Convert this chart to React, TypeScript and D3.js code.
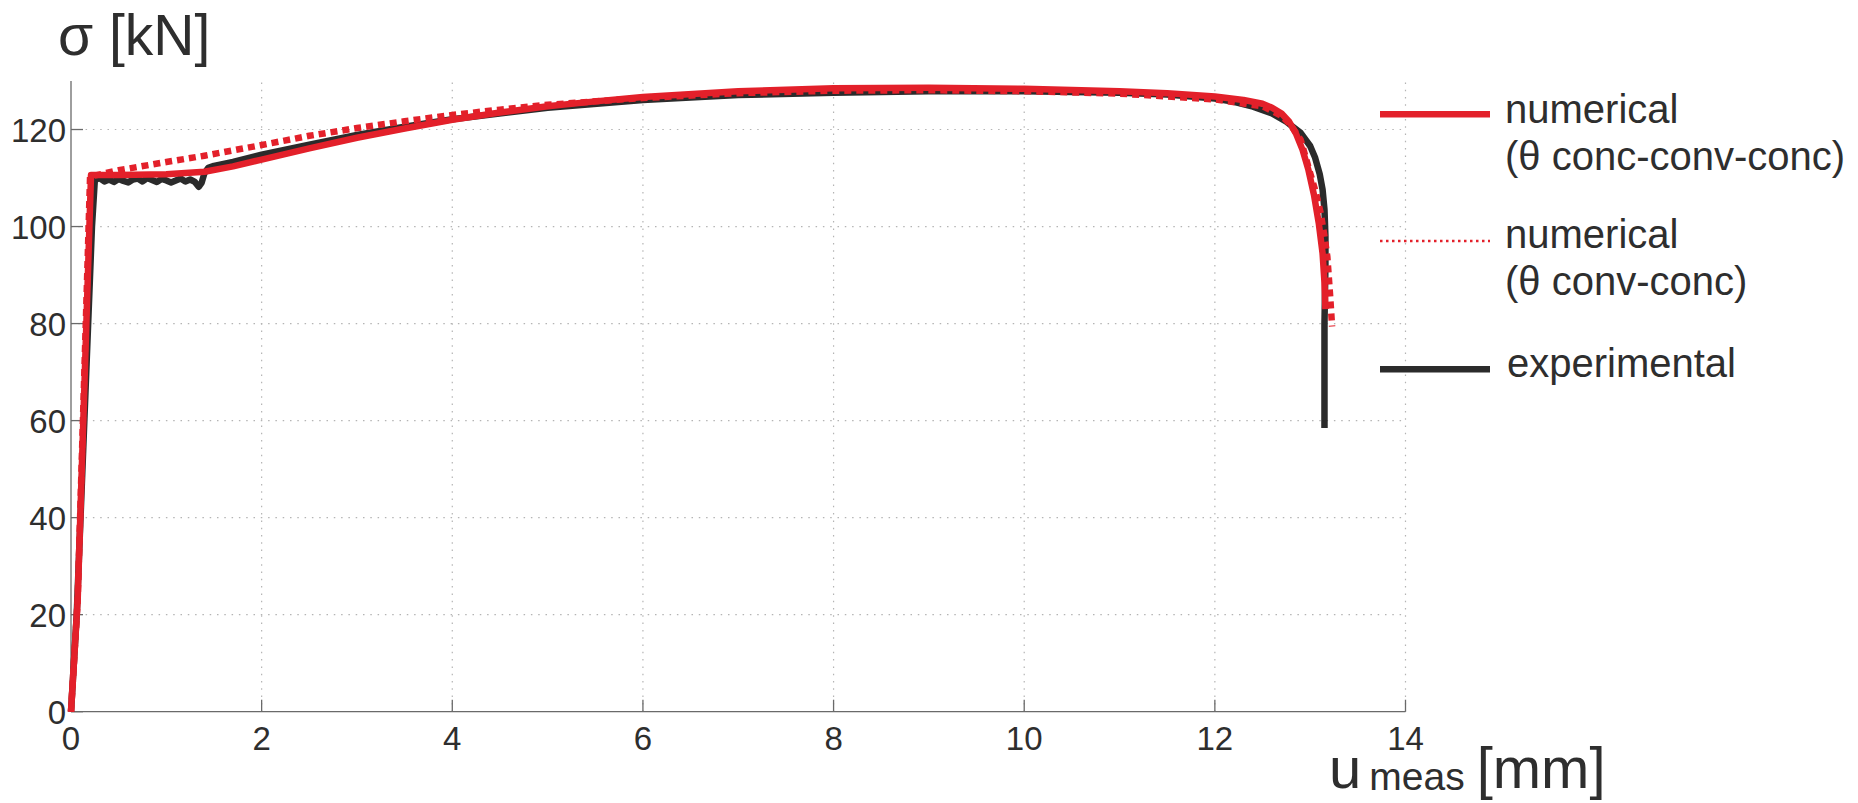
import React from "react";
import * as d3 from "d3";

// ---- data (u_meas [mm], sigma [kN]) ----
const xTicks = [0, 2, 4, 6, 8, 10, 12, 14];
const yTicks = [0, 20, 40, 60, 80, 100, 120];

const numConcConvConcU = [0, 0.07, 0.21, 0.5, 1.0, 1.4, 1.7, 2.0, 2.5, 3.0, 3.5, 4.0, 4.5, 5.0, 5.5, 6.0, 7.0, 8.0, 9.0, 10.0, 11.0, 11.5, 12.0, 12.3, 12.5, 12.6, 12.7, 12.78, 12.85, 12.92, 12.98, 13.04, 13.09, 13.13, 13.15, 13.16];
const numConcConvConcS = [0, 23, 110.6, 110.6, 110.8, 111.3, 112.4, 113.8, 116.1, 118.3, 120.2, 122.0, 123.5, 124.8, 125.8, 126.7, 127.9, 128.5, 128.6, 128.4, 127.9, 127.5, 126.8, 126.1, 125.3, 124.5, 123.3, 121.6, 119.2, 115.8, 111.8, 106.5, 100.7, 94.5, 88.5, 83];

const numConvConcU = [0, 0.07, 0.2, 0.5, 1.0, 1.4, 2.0, 2.5, 3.0, 3.5, 4.0, 4.5, 5.0, 6.0, 7.0, 8.0, 9.0, 10.0, 11.0, 12.0, 12.5, 12.7, 12.8, 12.9, 13.0, 13.06, 13.11, 13.15, 13.18, 13.21, 13.23];
const numConvConcS = [0, 23, 110.3, 111.6, 113.3, 114.6, 116.8, 118.7, 120.3, 121.7, 123.0, 124.1, 125.1, 126.5, 127.5, 128.0, 128.1, 127.9, 127.4, 126.2, 124.8, 122.8, 120.8, 117.9, 111.0, 107.0, 102.8, 98.0, 93.8, 85.6, 79.4];

const expU = [0, 0.06, 0.22, 0.25, 0.3, 0.35, 0.4, 0.45, 0.5, 0.55, 0.6, 0.65, 0.7, 0.75, 0.8, 0.85, 0.9, 0.95, 1.0, 1.05, 1.1, 1.15, 1.2, 1.25, 1.3, 1.34, 1.37, 1.4, 1.44, 1.5, 1.7, 2.0, 2.5, 3.0, 3.5, 4.0, 5.0, 6.0, 7.0, 8.0, 9.0, 10.0, 11.0, 11.5, 12.0, 12.2, 12.4, 12.6, 12.75, 12.9, 13.0, 13.05, 13.1, 13.13, 13.15, 13.16, 13.16, 13.15, 13.15];
const expS = [0, 20, 100, 109.6, 110.0, 109.3, 109.7, 109.2, 109.8, 109.4, 109.1, 109.7, 109.9, 109.3, 110.0, 109.6, 109.2, 109.8, 109.5, 109.1, 109.5, 109.9, 109.3, 109.7, 109.2, 108.2, 109.0, 111.0, 112.1, 112.5, 113.3, 114.8, 116.9, 118.9, 120.6, 122.1, 124.5, 126.1, 127.1, 127.6, 127.9, 127.9, 127.6, 127.2, 126.4, 125.7, 124.7, 123.3, 121.6, 119.3, 116.6, 114.3, 110.8, 107.6, 103.5, 98.0, 92.0, 80.0, 58.5];

const legendLabels = [
  ["numerical", "(θ conc-conv-conc)"],
  ["numerical", "(θ conv-conc)"],
  ["experimental"],
];

const RED = "#e3202a";
const BLACK = "#2b2b2b";
const TEXT = "#2e2e2e";
const FONT = "'Liberation Sans', Arial, Helvetica, sans-serif";

function zip(u: number[], s: number[]): [number, number][] {
  return u.map((v, i) => [v, s[i]]);
}

export default function App() {
  const W = 1858;
  const H = 803;
  const x = d3.scaleLinear().domain([0, 14]).range([71, 1405.5]);
  const y = d3.scaleLinear().domain([0, 130]).range([711.7, 81]);
  const line = d3
    .line<[number, number]>()
    .x((d) => x(d[0]))
    .y((d) => y(d[1]));

  const grid = "#b4b4b4";
  const axisCol = "#6a6a6a";

  return (
    <svg
      width={W}
      height={H}
      style={{ position: "absolute", left: 0, top: 0, display: "block", background: "#fff" }}
      fontFamily={FONT}
    >
      {/* grid */}
      {xTicks.filter((t) => t > 0).map((t) => (
        <line key={"gx" + t} x1={x(t)} x2={x(t)} y1={y(0)} y2={y(130)} stroke={grid} strokeWidth={1.2} strokeDasharray="1.5 5.8" />
      ))}
      {yTicks.filter((t) => t > 0).map((t) => (
        <line key={"gy" + t} x1={x(0)} x2={x(14)} y1={y(t)} y2={y(t)} stroke={grid} strokeWidth={1.2} strokeDasharray="1.5 5.8" />
      ))}

      {/* axes */}
      <line x1={x(0)} x2={x(14)} y1={y(0)} y2={y(0)} stroke={axisCol} strokeWidth={1.3} />
      <line x1={x(0)} x2={x(0)} y1={y(0)} y2={y(130)} stroke={axisCol} strokeWidth={1.3} />
      {xTicks.map((t) => (
        <line key={"tx" + t} x1={x(t)} x2={x(t)} y1={y(0)} y2={y(0) - 12} stroke={axisCol} strokeWidth={1.3} />
      ))}
      {yTicks.map((t) => (
        <line key={"ty" + t} x1={x(0)} x2={x(0) + 12} y1={y(t)} y2={y(t)} stroke={axisCol} strokeWidth={1.3} />
      ))}

      {/* tick labels */}
      {xTicks.map((t) => (
        <text key={"lx" + t} x={x(t)} y={750} fontSize={33} fill={TEXT} textAnchor="middle">
          {t}
        </text>
      ))}
      {yTicks.map((t) => (
        <text key={"ly" + t} x={x(0) - 5} y={y(t) + 12} fontSize={33} fill={TEXT} textAnchor="end">
          {t}
        </text>
      ))}

      {/* data lines */}
      <path d={line(zip(expU, expS)) || ""} fill="none" stroke={BLACK} strokeWidth={6.5} strokeLinejoin="round" />
      <path d={line(zip(numConvConcU, numConvConcS)) || ""} fill="none" stroke={RED} strokeWidth={6.5} strokeDasharray="7 5" />
      <path d={line(zip(numConcConvConcU, numConcConvConcS)) || ""} fill="none" stroke={RED} strokeWidth={6.5} strokeLinejoin="round" />

      {/* axis titles */}
      <text x={58} y={55} fontSize={57} fill={TEXT}>
        σ [kN]
      </text>
      <text x={1329} y={788} fill={TEXT}>
        <tspan fontSize={58}>u</tspan>
        <tspan fontSize={39} dx={8} dy={2}>meas</tspan>
        <tspan fontSize={58} dx={12} dy={-2}>[mm]</tspan>
      </text>

      {/* legend */}
      <line x1={1380} x2={1490} y1={114.3} y2={114.3} stroke={RED} strokeWidth={6.5} />
      <text x={1505} y={123} fontSize={40} fill={TEXT}>{legendLabels[0][0]}</text>
      <text x={1505} y={170} fontSize={40} fill={TEXT}>{legendLabels[0][1]}</text>

      <line x1={1380} x2={1490} y1={241} y2={241} stroke={RED} strokeWidth={2.5} strokeDasharray="2.5 3.5" />
      <text x={1505} y={248} fontSize={40} fill={TEXT}>{legendLabels[1][0]}</text>
      <text x={1505} y={295} fontSize={40} fill={TEXT}>{legendLabels[1][1]}</text>

      <line x1={1380} x2={1490} y1={369.3} y2={369.3} stroke={BLACK} strokeWidth={6.5} />
      <text x={1507} y={377} fontSize={40} fill={TEXT}>{legendLabels[2][0]}</text>
    </svg>
  );
}
